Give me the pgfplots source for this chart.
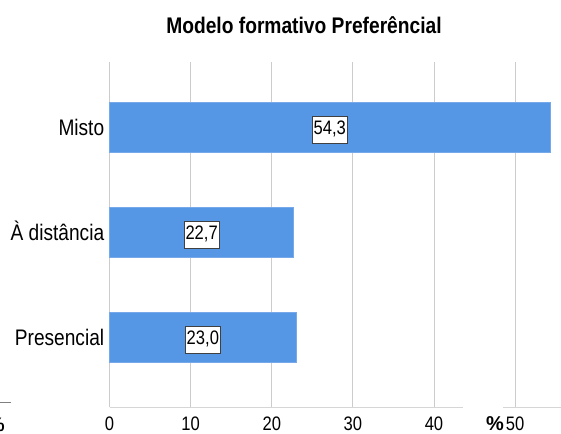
\documentclass[border=0pt]{standalone}
\usepackage{pgfplots}
\pgfplotsset{compat=1.18}
\usepackage{pgfplotstable}
\usepackage{fontspec}
\setmainfont{Liberation Sans}[FakeStretch=0.85]
\newfontfamily\pctfont{Liberation Sans}

\definecolor{barblue}{RGB}{85,150,229}
\definecolor{baredge}{RGB}{118,168,234}
\definecolor{gridgray}{RGB}{204,204,204}
\definecolor{axisgray}{RGB}{214,214,214}
\definecolor{boxgray}{RGB}{64,64,64}
\definecolor{stubgray}{RGB}{128,128,128}

% percentage of respondents per preferred training model
\pgfplotstableread{
pos value
0 23.0
1 22.7
2 54.3
}\modelo

\begin{document}
\begin{tikzpicture}[x=1pt,y=1pt]
\useasboundingbox (0,0) rectangle (561,433);
\begin{axis}[
  at={(109.6pt,25.7pt)}, anchor=south west,
  scale only axis, width=451.4pt, height=345.3pt,
  xmin=0, xmax=55.66, ymin=-0.664, ymax=2.62,
  axis line style={draw=none},
  major tick length=0pt,
  xtick={0,10,...,50},
  ytick={0,1,2},
  yticklabels={Presencial, À distância, Misto},
  xmajorgrids, grid style={gridgray, line width=1pt},
  /pgf/number format/assume math mode=true,
  x tick label style={font=\fontsize{19.5}{23}\selectfont, anchor=base, inner sep=0pt, yshift=-22.8pt},
  y tick label style={font=\fontsize{22.5}{27}\selectfont, anchor=east, inner sep=0pt, text height=0.716em, text depth=0pt, xshift=-5.2pt, yshift=-4.5pt},
  title={\bfseries Modelo formativo Preferêncial},
  title style={font=\fontsize{22.6}{26}\selectfont, at={(0.4307,1)}, anchor=base, inner sep=0pt, yshift=22.4pt},
  xlabel={\%},
  xlabel style={font=\pctfont\bfseries\fontsize{20}{23}\selectfont, at={(0.8538,0)}, anchor=base, inner sep=0pt, yshift=-23pt},
  clip=false,
]
\addplot[xbar, bar width=0.478, bar shift=0pt, fill=barblue, draw=baredge, line width=0.8pt]
  table[x=value, y=pos]{\modelo};
\addplot[draw=none, mark=none, nodes near coords={\pgfmathprintnumber[use comma, fixed, fixed zerofill, precision=1]{\pgfplotspointmeta}},
  point meta=\thisrow{value},
  every node near coord/.style={draw=boxgray, fill=white, line width=0.8pt, text=black,
    font=\fontsize{19.5}{23}\selectfont, text height=14pt, text depth=5pt,
    inner xsep=1.5pt, inner ysep=4pt, anchor=center, yshift=-2.5pt}]
  table[x expr=\thisrow{value}/2, y=pos]{\modelo};
\draw[axisgray, line width=1.3pt] (rel axis cs:0,0) -- (rel axis cs:0.7829,0)
  (rel axis cs:0.8715,0) -- (rel axis cs:1,0);
\end{axis}
\draw[stubgray, line width=1pt] (0,30.3) -- (10.7,30.3);
\node[anchor=base east, inner sep=0pt, font=\pctfont\bfseries\fontsize{19.5}{23}\selectfont] at (5,2) {\%};
\end{tikzpicture}
\end{document}
